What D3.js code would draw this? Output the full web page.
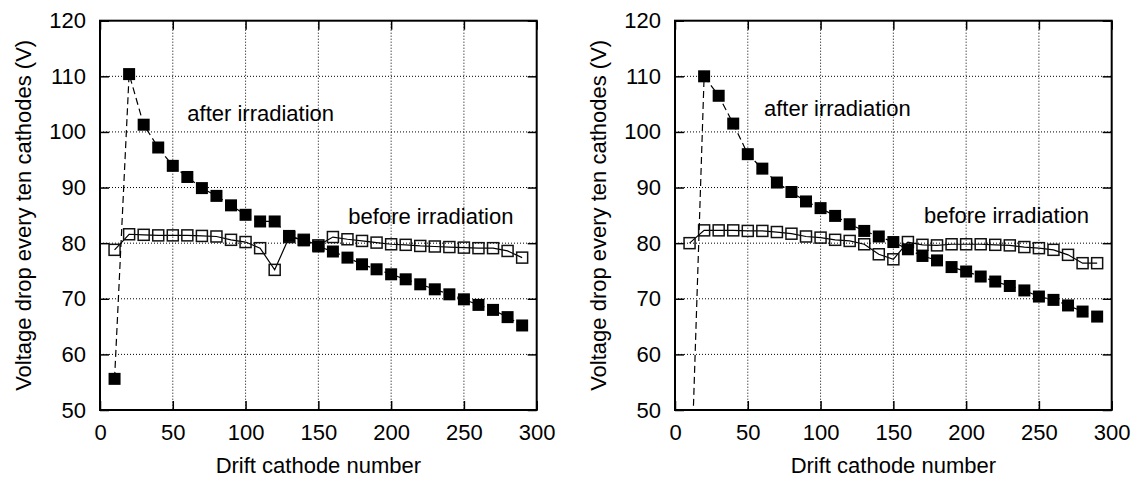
<!DOCTYPE html>
<html>
<head>
<meta charset="utf-8">
<script src="https://cdn.jsdelivr.net/npm/d3@7"></script>
<style>
  body { margin: 0; background: #fff; }
  svg text { font-family: "Liberation Sans", Arial, Helvetica, sans-serif; fill: #000; }
</style>
</head>
<body>
<svg id="chart" width="1138" height="479"></svg>
<script>
// cathode index, one point every ten cathodes
const cathodes = [10, 20, 30, 40, 50, 60, 70, 80, 90, 100, 110, 120, 130, 140, 150,
                  160, 170, 180, 190, 200, 210, 220, 230, 240, 250, 260, 270, 280, 290]

// left panel
const leftAfter = [55.6, 110.4, 101.3, 97.2, 93.9, 91.9, 89.9, 88.5, 86.8, 85.1, 83.9, 83.9, 81.3, 80.5, 79.4,
                   78.5, 77.4, 76.2, 75.3, 74.4, 73.5, 72.6, 71.7, 70.8, 69.9, 68.9, 68.0, 66.7, 65.2]
const leftBefore = [78.8, 81.6, 81.5, 81.4, 81.4, 81.4, 81.3, 81.2, 80.6, 80.2, 79.1, 75.2, 81.1, 80.6, 79.6,
                    81.1, 80.7, 80.4, 80.1, 79.8, 79.7, 79.5, 79.4, 79.3, 79.2, 79.1, 79.1, 78.6, 77.4]

// right panel (first "after" point is below the axis, only its line shows)
const rightAfter = [29, 110.0, 106.5, 101.5, 96.0, 93.4, 90.9, 89.2, 87.5, 86.3, 84.9, 83.4, 82.2, 81.2, 80.2,
                    78.9, 77.7, 76.9, 75.7, 74.9, 74.0, 73.1, 72.3, 71.5, 70.4, 69.8, 68.8, 67.7, 66.8]
const rightBefore = [80.0, 82.3, 82.3, 82.3, 82.2, 82.2, 82.0, 81.7, 81.2, 81.0, 80.6, 80.4, 79.8, 78.0, 77.1,
                     80.2, 79.7, 79.6, 79.8, 79.8, 79.8, 79.7, 79.6, 79.3, 79.1, 78.8, 77.9, 76.4, 76.4]

const xTicks = [0, 50, 100, 150, 200, 250, 300]
const yTicks = [50, 60, 70, 80, 90, 100, 110, 120]

const xTitle = 'Drift cathode number'
const yTitle = 'Voltage drop every ten cathodes (V)'

const svg = d3.select('#chart')

// plot box inside each panel
const plotTop = 20.7, plotBottom = 410
const plotW = 436.7

function drawPanel(id, left, after, before, labels) {

    const x = d3.scaleLinear().domain([0, 300]).range([left, left + plotW])
    const y = d3.scaleLinear().domain([50, 120]).range([plotBottom, plotTop])

    const g = svg.append('g')

    svg.append('clipPath').attr('id', 'clip' + id)
        .append('rect')
        .attr('x', left).attr('y', plotTop)
        .attr('width', plotW).attr('height', plotBottom - plotTop)

    //dotted grid
    g.append('g')
        .selectAll('line')
        .data(xTicks.slice(1, -1))
        .enter().append('line')
        .attr('x1', d => x(d)).attr('x2', d => x(d))
        .attr('y1', plotTop).attr('y2', plotBottom)
        .attr('stroke', '#000').attr('stroke-width', 1)
        .attr('stroke-dasharray', '1,2')
    g.append('g')
        .selectAll('line')
        .data(yTicks.slice(1, -1))
        .enter().append('line')
        .attr('x1', left).attr('x2', left + plotW)
        .attr('y1', d => y(d)).attr('y2', d => y(d))
        .attr('stroke', '#000').attr('stroke-width', 1)
        .attr('stroke-dasharray', '1,2')

    //axes, ticks point inwards and are mirrored on top / right
    const axB = g.append('g')
        .attr('transform', `translate(0, ${plotBottom})`)
        .call(d3.axisBottom(x).tickValues(xTicks).tickSize(-9).tickPadding(14))
    const axL = g.append('g')
        .attr('transform', `translate(${left}, 0)`)
        .call(d3.axisLeft(y).tickValues(yTicks).tickSize(-9).tickPadding(14))
    const axT = g.append('g')
        .attr('transform', `translate(0, ${plotTop})`)
        .call(d3.axisTop(x).tickValues(xTicks).tickSize(-9).tickFormat(''))
    const axR = g.append('g')
        .attr('transform', `translate(${left + plotW}, 0)`)
        .call(d3.axisRight(y).tickValues(yTicks).tickSize(-9).tickFormat(''))

    ;[axB, axL, axT, axR].forEach(a => {
        a.select('.domain').remove()
        a.selectAll('line').attr('stroke', '#000').attr('stroke-width', 1.5)
        a.selectAll('text').style('font-size', '22px').attr('fill', '#000')
    })

    g.append('rect')
        .attr('x', left).attr('y', plotTop)
        .attr('width', plotW).attr('height', plotBottom - plotTop)
        .attr('fill', 'none').attr('stroke', '#000').attr('stroke-width', 2)

    //axis titles
    g.append('text')
        .attr('x', left + plotW / 2)
        .attr('y', 473)
        .attr('text-anchor', 'middle')
        .style('font-size', '22px')
        .text(xTitle)

    g.append('text')
        .attr('transform', `translate(${left - 69}, ${(plotTop + plotBottom) / 2}) rotate(-90)`)
        .attr('text-anchor', 'middle')
        .style('font-size', '22px')
        .text(yTitle)

    const line = d3.line()
        .x((d, i) => x(cathodes[i]))
        .y(d => y(d))

    const data = g.append('g').attr('clip-path', `url(#clip${id})`)

    // before irradiation: open squares, solid line
    data.append('path')
        .datum(before)
        .attr('d', line)
        .attr('fill', 'none').attr('stroke', '#000').attr('stroke-width', 1.2)

    data.selectAll('rect.open')
        .data(before)
        .enter().append('rect')
        .attr('class', 'open')
        .attr('x', (d, i) => x(cathodes[i]) - 5.5)
        .attr('y', d => y(d) - 5.5)
        .attr('width', 11).attr('height', 11)
        .attr('fill', 'none').attr('stroke', '#111').attr('stroke-width', 1.5)

    // after irradiation: filled squares, dashed line
    data.append('path')
        .datum(after)
        .attr('d', line)
        .attr('fill', 'none').attr('stroke', '#000').attr('stroke-width', 1.2)
        .attr('stroke-dasharray', '7,4')

    const pts = after.map((v, i) => ({c: cathodes[i], v: v})).filter(p => p.v >= 50)

    data.selectAll('rect.filled')
        .data(pts)
        .enter().append('rect')
        .attr('class', 'filled')
        .attr('x', p => x(p.c) - 6)
        .attr('y', p => y(p.v) - 6)
        .attr('width', 12).attr('height', 12)
        .attr('fill', '#000')

    //labels inside the plot
    labels.forEach(l => {
        g.append('text')
            .attr('x', x(l.x))
            .attr('y', y(l.y))
            .style('font-size', '22px')
            .text(l.text)
    })
}

drawPanel('L', 100, leftAfter, leftBefore, [
    {text: 'after irradiation', x: 60, y: 101.9},
    {text: 'before irradiation', x: 170.6, y: 83.5}
])
drawPanel('R', 675, rightAfter, rightBefore, [
    {text: 'after irradiation', x: 61.1, y: 102.9},
    {text: 'before irradiation', x: 171, y: 83.6}
])
</script>
</body>
</html>
